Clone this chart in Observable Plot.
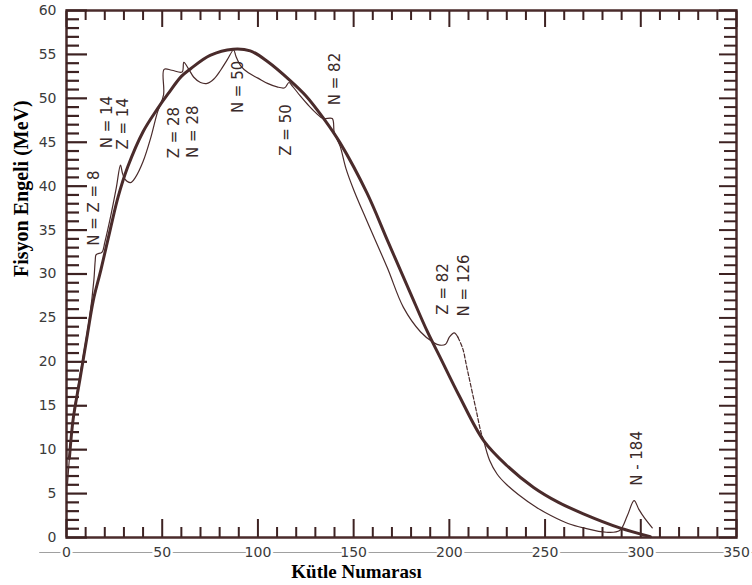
<!DOCTYPE html>
<html>
<head>
<meta charset="utf-8">
<script src="https://cdn.jsdelivr.net/npm/d3@7"></script>
<script src="https://cdn.jsdelivr.net/npm/@observablehq/plot@0.6"></script>
<style>
  html, body { margin: 0; padding: 0; background: #fff; }
  #chart svg { display: block; }
</style>
</head>
<body>
<div id="chart"></div>
<script>
// Smooth (macroscopic / liquid-drop) fission barrier
const macroX = [1.5, 3.5, 7, 11, 14, 18, 23, 27, 32, 40, 47.5, 53, 60, 65, 75, 87, 96, 105, 117, 125, 134, 143, 157, 167.7, 179.7, 188.6, 195, 205, 218, 230, 244, 257, 270, 289, 305];
const macroY = [9, 13.5, 18, 23.2, 27, 30.5, 35.2, 38.8, 42.2, 46.2, 48.8, 50.5, 52.5, 53.4, 54.9, 55.6, 55.4, 54.2, 52, 50.3, 47.8, 44.9, 39.2, 33.8, 27.8, 23.4, 20.6, 16.2, 11.0, 8.2, 5.7, 4.0, 2.7, 1.1, 0.1];

// Barrier including shell effects (thin line)
const shellX = [0.5, 1.5, 3, 5.5, 9, 12, 14.3, 15, 15.5, 18.6, 20, 23, 26, 28.2, 29.2, 30.5, 33.4, 36, 40, 44, 47.5, 50.7, 51, 55, 60.4, 61.3, 63.9, 66.5, 70, 73.5, 77, 80.5, 84, 87.3,
                88.5, 91, 95, 100, 105, 110, 114, 116.2, 118, 122, 126, 130, 134, 138.8, 139.8, 141, 143, 146, 150, 157, 167.6, 176, 185, 191.7, 195, 198, 200, 202.5, 204.5,
                207, 209, 211, 214, 216.5, 218, 221, 225, 230, 236, 245, 253, 262, 270, 282, 289, 293, 296.5, 299, 302, 306];
const shellY = [6, 9, 13, 16.5, 21, 25, 29.3, 31.5, 32.2, 32.5, 33.6, 36.5, 39.8, 42.4, 41.5, 40.8, 40.4, 41, 42.8, 45.5, 48.4, 50.4, 53.3, 53.2, 53, 54.1, 53.3, 52.4, 51.8, 51.7, 52.2, 53.2, 54.4, 55.5,
                54.8, 53.7, 52.9, 52.3, 51.7, 51.3, 51.2, 51.8, 51.4, 50.3, 49.3, 48.4, 47.7, 47.7, 46.2, 45.5, 44.5, 42, 39.6, 36, 30.7, 26.2, 23.4, 22.2, 21.9, 22.0, 22.8, 23.3, 22.8,
                21.5, 19.5, 17.5, 14.5, 12, 11, 8.8, 7.2, 6, 4.9, 3.5, 2.5, 1.6, 1.1, 0.6, 0.8, 2.5, 4.2, 3.2, 2.2, 1.1];
const dashFrom = 204.5, dashTo = 218;

// Magic-number annotations
const magicLabels = ["N = Z = 8", "N = 14", "Z = 14", "Z = 28", "N = 28", "N = 50", "Z = 50", "N = 82", "Z = 82", "N = 126", "N - 184"];
const magicX = [14.6, 21.4, 29.8, 56.4, 66.1, 89.6, 114.6, 140.5, 197, 208, 298.3];
const magicY = [37.5, 47.3, 47.1, 46.1, 46.2, 51.3, 46.4, 52.2, 28.3, 28.7, 9.0];

// Axes
const xTickLabels = [0, 50, 100, 150, 200, 250, 300, 350];
const yTickLabels = [0, 5, 10, 15, 20, 25, 30, 35, 40, 45, 50, 55, 60];
const xTicks = d3.range(0, 351, 10);
const yTicks = d3.range(0, 61, 1);
const xTitle = "Kütle Numarası";
const yTitle = "Fisyon Engeli (MeV)";
const baseLineX = [-14, 358.5];

const W = 752, H = 585, ML = 66, MR = 16, MT = 10, MB = 48;
const ink = "#4a2b2b";
const tickInk = "#3d2222";

const macro = macroX.map((x, i) => ({x, y: macroY[i]}));
const shell = shellX.map((x, i) => ({x, y: shellY[i]}));
const shellA = shell.filter(d => d.x <= dashFrom);
const shellB = shell.filter(d => d.x >= dashFrom && d.x <= dashTo);
const shellC = shell.filter(d => d.x >= dashTo);
const magic = magicLabels.map((t, i) => ({t, x: magicX[i], y: magicY[i]}));

const isMajorY = v => v % 5 === 0;
const isMajorX = v => v % 50 === 0;

const chart = Plot.plot({
  width: W, height: H,
  marginLeft: ML, marginRight: MR, marginTop: MT, marginBottom: MB,
  x: {domain: [0, 350], axis: null},
  y: {domain: [0, 60], axis: null},
  style: {fontFamily: "DejaVu Sans", background: "#fff"},
  marks: [
    Plot.frame({stroke: ink, fill: "none", strokeWidth: 2.5}),
    // baseline under the frame carrying the x labels
    Plot.ruleY([0], {x1: baseLineX[0], x2: baseLineX[1], dy: 15, stroke: "#a0a0a0", strokeWidth: 1.2}),
    // ticks pointing inward (negative tick size)
    Plot.axisY(yTicks.filter(v => !isMajorY(v)), {anchor: "left", tickSize: -13, fill: "none", stroke: tickInk, strokeWidth: 2.2, label: null}),
    Plot.axisY(yTicks.filter(isMajorY), {anchor: "left", tickSize: -21, fill: "none", stroke: tickInk, strokeWidth: 2.2, label: null}),
    Plot.axisY(yTicks.filter(v => !isMajorY(v)), {anchor: "right", tickSize: -13, fill: "none", stroke: tickInk, strokeWidth: 2, label: null}),
    Plot.axisY(yTicks.filter(isMajorY), {anchor: "right", tickSize: -18, fill: "none", stroke: tickInk, strokeWidth: 2, label: null}),
    Plot.axisX(xTicks.filter(v => !isMajorX(v)), {anchor: "bottom", tickSize: -10, fill: "none", stroke: tickInk, strokeWidth: 2, label: null}),
    Plot.axisX(xTicks.filter(isMajorX), {anchor: "bottom", tickSize: -18, fill: "none", stroke: tickInk, strokeWidth: 2, label: null}),
    Plot.axisX(xTicks.filter(v => !isMajorX(v)), {anchor: "top", tickSize: -9, fill: "none", stroke: tickInk, strokeWidth: 2, label: null}),
    Plot.axisX(xTicks.filter(isMajorX), {anchor: "top", tickSize: -16, fill: "none", stroke: tickInk, strokeWidth: 2, label: null}),
    // curves
    Plot.line(shellA, {x: "x", y: "y", stroke: ink, strokeWidth: 1.2, curve: "catmull-rom"}),
    Plot.line(shellB, {x: "x", y: "y", stroke: ink, strokeWidth: 1.2, strokeDasharray: "4,2", curve: "catmull-rom"}),
    Plot.line(shellC, {x: "x", y: "y", stroke: ink, strokeWidth: 1.2, curve: "catmull-rom"}),
    Plot.line(macro, {x: "x", y: "y", stroke: ink, strokeWidth: 3, curve: "catmull-rom"}),
    // annotations
    Plot.text(magic, {x: "x", y: "y", text: "t", rotate: -90, fontSize: 15, fill: "#3a2a2a", textAnchor: "middle", lineAnchor: "middle"}),
    // tick labels
    Plot.text(yTickLabels, {y: d => d, frameAnchor: "left", dx: -10, text: d => String(d), textAnchor: "end", fontSize: 14, fill: "#3a3a3a"}),
    Plot.text(xTickLabels, {x: d => d, frameAnchor: "bottom", dy: 15, text: d => String(d), fontSize: 14, fill: "#3a3a3a", stroke: "#fff", strokeWidth: 5, lineAnchor: "middle"}),
    // titles
    Plot.text([xTitle], {frameAnchor: "bottom", dx: -45, dy: 40, text: d => d, fontFamily: "Liberation Serif", fontWeight: "bold", fontSize: 19, fill: "#000"}),
    Plot.text([yTitle], {frameAnchor: "left", dx: -45, dy: 3, rotate: -90, text: d => d, fontFamily: "Liberation Serif", fontWeight: "bold", fontSize: 20, fill: "#000", ariaLabel: "ytitle"})
  ]
});
document.getElementById("chart").appendChild(chart);
d3.select(chart).selectAll('g[aria-label="ytitle"] text')
  .attr("textLength", 240).attr("lengthAdjust", "spacingAndGlyphs");
</script>
</body>
</html>
